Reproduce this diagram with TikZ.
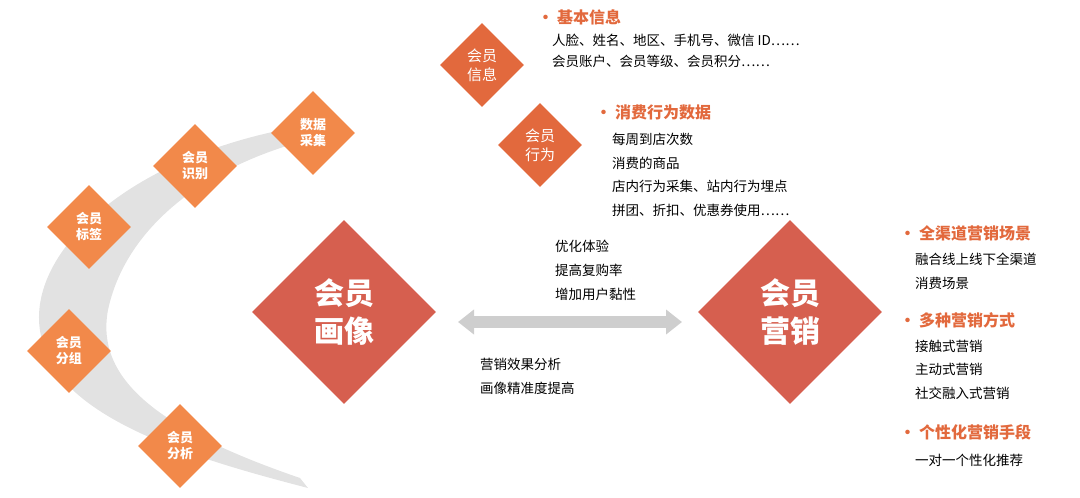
\documentclass[tikz,border=0pt]{standalone}
\usepackage{fontspec}
\setmainfont{Noto Sans CJK SC}
\usetikzlibrary{shapes.geometric,arrows.meta}
\definecolor{lorange}{HTML}{F2894A}
\definecolor{dorange}{HTML}{E2693D}
\definecolor{mred}{HTML}{D65F4F}
\definecolor{arcgray}{HTML}{E2E2E2}
\tikzset{
  smalldia/.style={diamond,fill=lorange,minimum size=84pt,inner sep=0pt,text=white,font=\fontsize{13}{16}\selectfont\bfseries,align=center},
  topdia/.style={smalldia,fill=dorange,font=\fontsize{15}{19}\selectfont},
  bigdia/.style={diamond,fill=mred,minimum size=184pt,inner sep=0pt,text=white,font=\fontsize{30}{38}\selectfont\bfseries,align=center},
  head/.style={anchor=west,text=dorange,font=\fontsize{16}{18}\selectfont\bfseries},
  body/.style={anchor=west,font=\fontsize{13.5}{15}\selectfont,inner sep=0pt}
}
\begin{document}
\begin{tikzpicture}[x=1pt,y=-1pt]
  \useasboundingbox (0,0) rectangle (1080,498);
  % gray crescent
  \fill[arcgray] (292,128) .. controls (120,160) and (20,260) .. (42,340)
     .. controls (60,420) and (200,460) .. (308,488)
     -- (300,478) .. controls (160,430) and (95,380) .. (108,310)
     .. controls (125,230) and (200,170) .. (300,142) -- cycle;
  % left chain
  \node[smalldia] (cai) at (313,133) {数据\\采集};
  \node[smalldia] (shi) at (195,166) {会员\\识别};
  \node[smalldia] (biao) at (89,227) {会员\\标签};
  \node[smalldia] (zu) at (69,351) {会员\\分组};
  \node[smalldia] (xi) at (180,446) {会员\\分析};
  % big diamonds
  \node[bigdia] (hx) at (344,312) {会员\\画像};
  \node[bigdia] (yx) at (790,312) {会员\\营销};
  \node[topdia] (xx) at (482,65) {会员\\信息};
  \node[topdia] (xw) at (540,145) {会员\\行为};
  % double arrow
  \coordinate (al) at (458,322);
  \coordinate (ar) at (682,322);
  \draw[line width=12pt,draw=arcgray!80!gray,{Triangle[width=24pt,length=16pt]}-{Triangle[width=24pt,length=16pt]}] (al) -- (ar);
  % top texts
  \node[head] (h1) at (534,17) {•\ 基本信息};
  \node[body] at (552,40) {人脸、姓名、地区、手机号、微信 ID……};
  \node[body] at (552,61) {会员账户、会员等级、会员积分……};
  \node[head] (h2) at (592,112) {•\ 消费行为数据};
  \node[body] at (612,139) {每周到店次数};
  \node[body] at (612,163) {消费的商品};
  \node[body] at (612,186) {店内行为采集、站内行为埋点};
  \node[body] at (612,210) {拼团、折扣、优惠券使用……};
  % middle texts
  \node[body] at (555,246) {优化体验};
  \node[body] at (555,270) {提高复购率};
  \node[body] at (555,294) {增加用户黏性};
  \node[body] at (480,364) {营销效果分析};
  \node[body] at (480,388) {画像精准度提高};
  % right texts
  \node[head] (h3) at (896,233) {•\ 全渠道营销场景};
  \node[body] at (915,259) {融合线上线下全渠道};
  \node[body] at (915,283) {消费场景};
  \node[head] (h4) at (896,320) {•\ 多种营销方式};
  \node[body] at (915,346) {接触式营销};
  \node[body] at (915,369) {主动式营销};
  \node[body] at (915,393) {社交融入式营销};
  \node[head] (h5) at (896,432) {•\ 个性化营销手段};
  \node[body] at (915,460) {一对一个性化推荐};
\end{tikzpicture}
\end{document}
